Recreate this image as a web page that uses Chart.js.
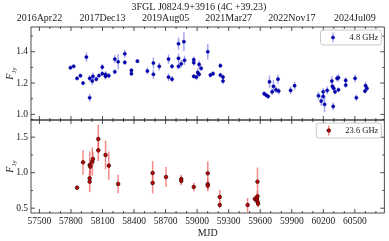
<!DOCTYPE html>
<html>
<head>
<meta charset="utf-8">
<script src="https://cdn.jsdelivr.net/npm/chart.js@4.4.0/dist/chart.umd.min.js"></script>
<style>
  html, body { margin: 0; padding: 0; background: #fff; }
  #wrap { width: 389px; height: 241px; }
</style>
</head>
<body>
<div id="wrap"><canvas id="lc" width="389" height="241"></canvas></div>
<script>
// 4.8 GHz light curve (MJD, flux in Jy, 1-sigma error)
const mjd48 = [57795, 57826, 57858, 57890, 57915, 57947, 57978, 57978, 58003, 58009,
  58041, 58066, 58098, 58098, 58129, 58129, 58160, 58217, 58217, 58249,
  58312, 58312, 58375, 58375, 58432, 58527, 58584, 58584, 58640, 58728,
  58728, 58761, 58761, 58823, 58823, 58823, 58849, 58874, 58880, 58968,
  58968, 58968, 58993, 59006, 59019, 59019, 59038, 59101, 59126, 59151,
  59221, 59221, 59246, 59246, 59637, 59656, 59675, 59688, 59713, 59726,
  59750, 59769, 59776, 59889, 59927, 60154, 60180, 60199, 60199, 60212,
  60237, 60281, 60287, 60294, 60299, 60312, 60331, 60344, 60344, 60413,
  60413, 60502, 60514, 60596, 60602, 60615];
const flux48 = [1.298, 1.307, 1.230, 1.247, 1.200, 1.366, 1.230, 1.106, 1.213, 1.243,
  1.225, 1.247, 1.302, 1.260, 1.256, 1.243, 1.247, 1.353, 1.272, 1.336,
  1.387, 1.332, 1.281, 1.260, 1.340, 1.277, 1.328, 1.256, 1.307, 1.353,
  1.238, 1.307, 1.225, 1.451, 1.358, 1.307, 1.323, 1.464, 1.345, 1.349,
  1.330, 1.243, 1.238, 1.268, 1.319, 1.256, 1.294, 1.400, 1.251, 1.260,
  1.311, 1.251, 1.238, 1.213, 1.132, 1.123, 1.115, 1.208, 1.144, 1.179,
  1.157, 1.225, 1.149, 1.153, 1.183, 1.119, 1.085, 1.115, 1.144, 1.064,
  1.153, 1.213, 1.179, 1.051, 1.166, 1.144, 1.230, 1.234, 1.157, 1.217,
  1.187, 1.230, 1.106, 1.149, 1.183, 1.166];
const err48 = [0.012, 0.012, 0.012, 0.012, 0.012, 0.030, 0.020, 0.025, 0.025, 0.025,
  0.015, 0.012, 0.020, 0.015, 0.020, 0.020, 0.015, 0.025, 0.015, 0.050,
  0.025, 0.015, 0.015, 0.015, 0.012, 0.020, 0.035, 0.030, 0.025, 0.030,
  0.025, 0.015, 0.020, 0.040, 0.030, 0.020, 0.025, 0.060, 0.030, 0.020,
  0.020, 0.015, 0.020, 0.025, 0.025, 0.015, 0.015, 0.050, 0.015, 0.015,
  0.015, 0.015, 0.015, 0.020, 0.015, 0.015, 0.015, 0.040, 0.020, 0.040,
  0.020, 0.030, 0.020, 0.025, 0.025, 0.025, 0.030, 0.025, 0.025, 0.050,
  0.025, 0.030, 0.020, 0.025, 0.020, 0.015, 0.020, 0.025, 0.015, 0.020,
  0.015, 0.025, 0.020, 0.015, 0.025, 0.020];

// 23.6 GHz light curve
const mjd236 = [57858, 57915, 57978, 57978, 57978, 57984, 58003, 58009, 58060, 58060,
  58129, 58160, 58249, 58577, 58577, 58704, 58849, 58849, 58968, 59101,
  59101, 59101, 59215, 59215, 59480, 59549, 59568, 59574, 59574, 59574, 59580];
const flux236 = [0.789, 1.146, 1.108, 0.921, 0.873, 1.085, 1.155, 1.193, 1.475, 1.315,
  1.249, 1.099, 0.841, 0.996, 0.855, 0.939, 0.911, 0.883, 0.799, 0.991,
  0.837, 0.817, 0.658, 0.545, 0.545, 0.630, 0.630, 0.873, 0.667, 0.592, 0.563];
const err236 = [0.025, 0.175, 0.190, 0.060, 0.150, 0.100, 0.200, 0.100, 0.200, 0.150,
  0.200, 0.200, 0.130, 0.170, 0.150, 0.140, 0.060, 0.060, 0.060, 0.170,
  0.080, 0.080, 0.100, 0.050, 0.100, 0.050, 0.050, 0.200, 0.080, 0.060, 0.050];

// tick labels
const mjdTicks = [57500, 57800, 58100, 58400, 58700, 59000, 59300, 59600, 59900, 60200, 60500];
const dateTickMJD = [57500, 58100, 58700, 59300, 59900, 60500];
const dateLabels = ['2016Apr22', '2017Dec13', '2019Aug05', '2021Mar27', '2022Nov17', '2024Jul09'];
const topYTicks = [1.0, 1.2, 1.4];
const botYTicks = [0.5, 1.0, 1.5];

const serif = "'Liberation Serif', 'DejaVu Serif', serif";
const ink = '#222';

// error bars, frames, inward ticks, legends and y titles
const deco = {
    id: 'deco',
    beforeDatasetsDraw(chart) {
        const ctx = chart.ctx;
        chart.data.datasets.forEach((ds, di) => {
            const meta = chart.getDatasetMeta(di);
            const xs = chart.scales[meta.xAxisID];
            const ys = chart.scales[meta.yAxisID];
            ctx.save();
            ctx.beginPath();
            ctx.rect(xs.left, ys.top, xs.right - xs.left, ys.bottom - ys.top);
            ctx.clip();
            ctx.strokeStyle = ds.errColor;
            ctx.lineWidth = 1.5;
            ds.data.forEach((p, i) => {
                const px = xs.getPixelForValue(p.x);
                ctx.beginPath();
                ctx.moveTo(px, ys.getPixelForValue(p.y - ds.errors[i]));
                ctx.lineTo(px, ys.getPixelForValue(p.y + ds.errors[i]));
                ctx.stroke();
            });
            ctx.restore();
        });
    },
    afterDatasetsDraw(chart) {
        const ctx = chart.ctx;
        const xs = chart.scales.x;
        const panels = [
            { id: 'yTop', minor: 0.1, from: 1.0, to: 1.5 },
            { id: 'yBot', minor: 0.25, from: 0.5, to: 1.75 }
        ];
        ctx.save();
        ctx.strokeStyle = ink;
        ctx.lineWidth = 0.8;
        panels.forEach(pn => {
            const ys = chart.scales[pn.id];
            ctx.strokeRect(xs.left, ys.top, xs.right - xs.left, ys.bottom - ys.top);
            ctx.beginPath();
            // x ticks, every 100 MJD, longer on the labelled ones
            for (let v = 57500; v <= xs.max; v += 100) {
                const px = xs.getPixelForValue(v);
                const len = (v - 57500) % 300 === 0 ? 4 : 2;
                ctx.moveTo(px, ys.top); ctx.lineTo(px, ys.top + len);
                ctx.moveTo(px, ys.bottom); ctx.lineTo(px, ys.bottom - len);
            }
            // y ticks
            const nMinor = Math.round((pn.to - pn.from) / pn.minor);
            for (let k = 0; k <= nMinor; k++) {
                const v = pn.from + k * pn.minor;
                const major = (pn.id === 'yTop' ? topYTicks : botYTicks).some(t => Math.abs(t - v) < 1e-6);
                const len = major ? 4 : 2;
                const py = ys.getPixelForValue(v);
                ctx.moveTo(xs.left, py); ctx.lineTo(xs.left + len, py);
                ctx.moveTo(xs.right, py); ctx.lineTo(xs.right - len, py);
            }
            ctx.stroke();
        });
        ctx.restore();

        // legends
        chart.data.datasets.forEach((ds, di) => {
            const ys = chart.scales[chart.getDatasetMeta(di).yAxisID];
            ctx.save();
            ctx.font = '8.5px ' + serif;
            const tw = ctx.measureText(ds.label).width;
            const bw = tw + 32, bh = 15;
            const bx = xs.right - 3 - bw, by = ys.top + 3;
            ctx.fillStyle = 'rgba(255,255,255,0.85)';
            ctx.strokeStyle = '#c8c8c8';
            ctx.lineWidth = 1;
            ctx.beginPath();
            ctx.roundRect(bx, by, bw, bh, 2.5);
            ctx.fill();
            ctx.stroke();
            const mx = bx + 12.5, my = by + bh / 2;
            ctx.strokeStyle = ds.errColor;
            ctx.lineWidth = 1.5;
            ctx.beginPath();
            ctx.moveTo(mx, my - 5); ctx.lineTo(mx, my + 5);
            ctx.stroke();
            ctx.beginPath();
            ctx.arc(mx, my, ds.pointRadius, 0, Math.PI * 2);
            ctx.fillStyle = ds.backgroundColor;
            ctx.fill();
            ctx.strokeStyle = ds.borderColor;
            ctx.lineWidth = ds.borderWidth;
            ctx.stroke();
            ctx.fillStyle = ink;
            ctx.textBaseline = 'middle';
            ctx.fillText(ds.label, bx + 29, my + 0.5);
            ctx.restore();
        });

        // y titles F_Jy
        ['yTop', 'yBot'].forEach(id => {
            const ys = chart.scales[id];
            ctx.save();
            ctx.translate(10, (ys.top + ys.bottom) / 2);
            ctx.rotate(-Math.PI / 2);
            ctx.fillStyle = ink;
            ctx.font = 'italic 10px ' + serif;
            const wF = ctx.measureText('F').width;
            ctx.font = '7px ' + serif;
            const wS = ctx.measureText('Jy').width;
            const x0 = -(wF + wS) / 2;
            ctx.font = 'italic 10px ' + serif;
            ctx.fillText('F', x0, 3);
            ctx.font = '7px ' + serif;
            ctx.fillText('Jy', x0 + wF, 5.5);
            ctx.restore();
        });

        // title
        ctx.save();
        ctx.fillStyle = ink;
        ctx.font = '10px ' + serif;
        ctx.textAlign = 'center';
        ctx.textBaseline = 'middle';
        ctx.fillText('3FGL J0824.9+3916 (4C +39.23)', 199, 7);
        ctx.restore();
    }
};

const tickFont = { family: serif, size: 9.5 };

new Chart(document.getElementById('lc'), {
    type: 'scatter',
    data: {
        datasets: [
            {
                label: '4.8 GHz',
                data: mjd48.map((x, i) => ({ x: x, y: flux48[i] })),
                errors: err48,
                errColor: 'rgba(110,110,240,0.6)',
                xAxisID: 'x',
                yAxisID: 'yTop',
                pointRadius: 1.6,
                backgroundColor: '#0000c0',
                borderColor: '#000080',
                borderWidth: 0.5
            },
            {
                label: '23.6 GHz',
                data: mjd236.map((x, i) => ({ x: x, y: flux236[i] })),
                errors: err236,
                errColor: 'rgba(240,90,90,0.7)',
                xAxisID: 'x',
                yAxisID: 'yBot',
                pointRadius: 1.8,
                backgroundColor: '#d40000',
                borderColor: '#200000',
                borderWidth: 0.7
            }
        ]
    },
    options: {
        responsive: false,
        animation: false,
        devicePixelRatio: 1,
        layout: { padding: { left: 0, right: 3, top: 0, bottom: 0 } },
        plugins: { legend: { display: false }, tooltip: { enabled: false }, title: { display: false } },
        scales: {
            x: {
                type: 'linear',
                position: 'bottom',
                min: 57420,
                max: 60780,
                afterBuildTicks: s => { s.ticks = mjdTicks.map(v => ({ value: v })); },
                afterFit: s => { s.height = 28; },
                grid: { display: false, drawTicks: false },
                border: { display: false },
                ticks: { font: tickFont, color: ink, padding: 3, maxRotation: 0, autoSkip: false,
                    callback: v => String(v) },
                title: { display: true, text: 'MJD', font: { family: serif, size: 10 }, color: ink,
                    padding: { top: 0, bottom: 2 } }
            },
            xDate: {
                type: 'linear',
                position: 'top',
                min: 57420,
                max: 60780,
                afterBuildTicks: s => { s.ticks = dateTickMJD.map(v => ({ value: v })); },
                afterFit: s => { s.height = 27; },
                grid: { display: false, drawTicks: false },
                border: { display: false },
                ticks: { font: { family: serif, size: 10 }, color: ink, padding: 3, maxRotation: 0, autoSkip: false,
                    callback: v => dateLabels[dateTickMJD.indexOf(v)] }
            },
            yTop: {
                type: 'linear',
                position: 'left',
                stack: 'panels',
                stackWeight: 1,
                weight: 2,
                min: 0.964,
                max: 1.558,
                afterBuildTicks: s => { s.ticks = topYTicks.map(v => ({ value: v })); },
                afterFit: s => { s.width = 31; },
                grid: { display: false, drawTicks: false },
                border: { display: false },
                ticks: { font: tickFont, color: ink, padding: 3, callback: v => v.toFixed(1) }
            },
            yBot: {
                type: 'linear',
                position: 'left',
                stack: 'panels',
                stackWeight: 1,
                weight: 1,
                min: 0.432,
                max: 1.742,
                afterBuildTicks: s => { s.ticks = botYTicks.map(v => ({ value: v })); },
                afterFit: s => { s.width = 31; },
                grid: { display: false, drawTicks: false },
                border: { display: false },
                ticks: { font: tickFont, color: ink, padding: 3, callback: v => v.toFixed(1) }
            }
        }
    },
    plugins: [deco]
});
</script>
</body>
</html>
